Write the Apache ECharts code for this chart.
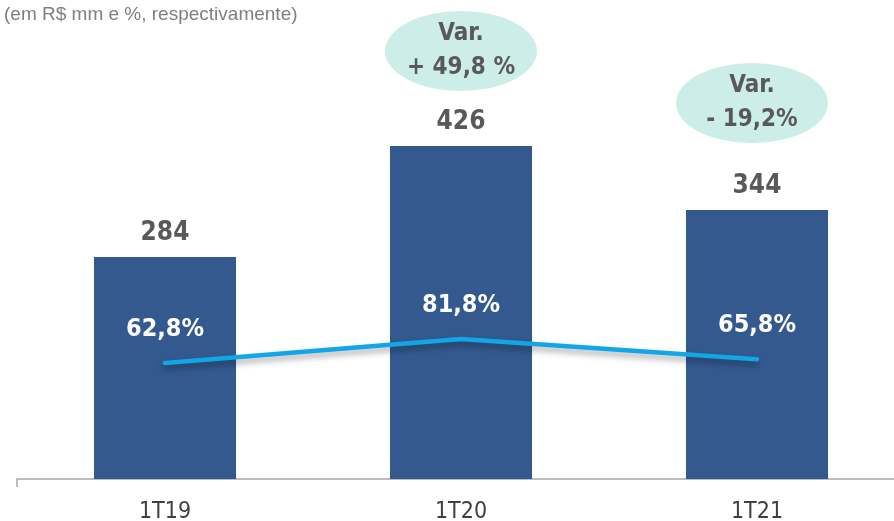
<!DOCTYPE html>
<html>
<head>
<meta charset="utf-8">
<script src="https://cdn.jsdelivr.net/npm/echarts@6/dist/echarts.min.js"></script>
<style>
  html, body { margin: 0; padding: 0; background: #fff; }
  #chart { width: 894px; height: 521px; }
</style>
</head>
<body>
<div id="chart"></div>
<script>
const categories = ['1T19', '1T20', '1T21'];
const revenue = [284, 426, 344];
const margin = [62.8, 81.8, 65.8];
const marginLabels = ['62,8%', '81,8%', '65,8%'];
const variation = [null, 'Var.\n+ 49,8 %', 'Var.\n- 19,2%'];
const subtitle = '(em R$ mm e %, respectivamente)';

const NARROW = "'Liberation Sans Narrow', 'Arial Narrow', 'DejaVu Sans Condensed', sans-serif";

const chart = echarts.init(document.getElementById('chart'));

// ellipse placement relative to the bar top (px)
const bubbleOffset = [null, [0, -95], [-5, -107]];

const bubbles = [];
variation.forEach((txt, i) => {
  if (!txt) return;
  bubbles.push({
    coord: [categories[i], revenue[i]],
    value: txt,
    symbolOffset: bubbleOffset[i]
  });
});

chart.setOption({
  animation: false,
  graphic: [{
    type: 'text',
    left: 4,
    top: 5,
    style: {
      text: subtitle,
      fill: '#7f7f7f',
      font: '19px "Liberation Sans", Arial, sans-serif'
    }
  }],
  // the plot runs past the right edge, so the last band is clipped
  grid: { left: 17, right: -11, top: 10, bottom: 42, outerBoundsMode: 'none' },
  xAxis: {
    type: 'category',
    data: categories,
    axisLine: { lineStyle: { color: '#a6a6a6', width: 1.5 } },
    axisTick: {
      show: true,
      length: 8,
      interval: (i) => i === 0,
      lineStyle: { color: '#a6a6a6', width: 1.5 }
    },
    axisLabel: {
      margin: 22,
      fontSize: 23,
      color: '#404040',
      fontFamily: NARROW
    }
  },
  yAxis: [
    { type: 'value', min: 0, max: 600, show: false, splitLine: { show: false } },
    { type: 'value', min: -29.05, max: 342.3, show: false, splitLine: { show: false } }
  ],
  series: [
    {
      type: 'bar',
      data: revenue,
      barWidth: '48%',
      itemStyle: { color: '#33598f' },
      label: {
        show: true,
        position: 'top',
        distance: 11,
        fontSize: 26,
        fontWeight: 'bold',
        color: '#595959',
        fontFamily: NARROW
      },
      markPoint: {
        symbol: 'circle',
        symbolSize: [152, 80],
        itemStyle: { color: '#ccede8' },
        label: {
          show: true,
          position: 'inside',
          formatter: (p) => p.value,
          fontSize: 24,
          lineHeight: 34,
          fontWeight: 'bold',
          color: '#595959',
          fontFamily: NARROW
        },
        data: bubbles
      }
    },
    {
      type: 'line',
      yAxisIndex: 1,
      data: margin,
      symbol: 'circle',
      symbolSize: 4,
      showSymbol: true,
      itemStyle: { color: '#12a6e6' },
      z: 3,
      lineStyle: {
        color: '#12a6e6',
        width: 4.5,
        cap: 'round',
        shadowColor: 'rgba(0,0,0,0.35)',
        shadowBlur: 6,
        shadowOffsetY: 4
      },
      label: {
        show: true,
        position: 'top',
        distance: 19,
        formatter: (p) => marginLabels[p.dataIndex],
        fontSize: 25,
        fontWeight: 'bold',
        color: '#ffffff',
        fontFamily: NARROW
      }
    }
  ]
});
</script>
</body>
</html>
